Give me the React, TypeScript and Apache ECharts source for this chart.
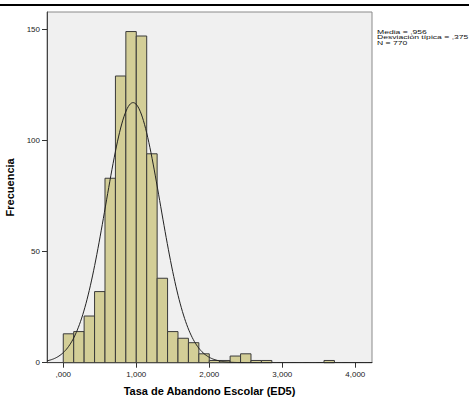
import React, { useEffect, useRef } from "react";
import * as echarts from "echarts";

// Histogram data (bins of width 1/7 starting at 0)
const BIN_START = 0;
const BIN_WIDTH = 1 / 7;
const counts: number[] = [
  13, 14, 21, 32, 83, 129, 149, 147, 94, 38, 14, 11, 9, 4,
  1, 1, 3, 4, 1, 1, 0, 0, 0, 0, 0, 1,
];

// Summary statistics shown in the legend
const MEAN = 0.956;
const SD = 0.375;
const N = 770;
const statLines: string[] = ["Media = ,956", "Desviación típica = ,375", "N = 770"];

const xTicks: number[] = [0, 1, 2, 3, 4];
const yTicks: number[] = [0, 50, 100, 150];

const X_MIN = -0.223;
const X_MAX = 4.229;
const Y_MAX = 157.8;

const FONT = "'Liberation Sans', Arial, Helvetica, sans-serif";

function fmtEs(v: number): string {
  const s = v.toFixed(3).replace(".", ",");
  return s.startsWith("0,") ? s.slice(1) : s;
}

export default function App() {
  const ref = useRef<HTMLDivElement>(null);

  useEffect(() => {
    if (!ref.current) return;
    const chart = echarts.init(ref.current, null, { renderer: "svg" });

    const barData = counts.map((c, i) => [
      BIN_START + i * BIN_WIDTH,
      BIN_START + (i + 1) * BIN_WIDTH,
      c,
    ]);

    // Fitted normal curve (SPSS overlay) from the displayed statistics
    const curve: number[][] = [];
    const steps = 300;
    for (let k = 0; k <= steps; k++) {
      const x = X_MIN + ((X_MAX - X_MIN) * k) / steps;
      const z = (x - MEAN) / SD;
      const y = (N * BIN_WIDTH * Math.exp(-0.5 * z * z)) / (SD * Math.sqrt(2 * Math.PI));
      curve.push([x, y]);
    }

    chart.setOption({
      animation: false,
      backgroundColor: "#ffffff",
      grid: {
        left: 47,
        top: 12,
        width: 325,
        height: 350.7,
        containLabel: false,
        outerBoundsMode: "none",
        show: true,
        backgroundColor: "#f0f0f0",
        borderColor: "#8a8a8a",
        borderWidth: 1,
      },
      xAxis: {
        type: "value",
        min: X_MIN,
        max: X_MAX,
        name: "Tasa de Abandono Escolar (ED5)",
        nameLocation: "middle",
        nameGap: 23,
        nameTextStyle: { fontFamily: FONT, fontWeight: "bold", fontSize: 11, color: "#000" },
        axisLine: { show: true, onZero: false, lineStyle: { color: "#444", width: 1 } },
        axisTick: { show: true, length: 5, customValues: xTicks, lineStyle: { color: "#333" } },
        axisLabel: {
          customValues: xTicks,
          formatter: (v: number) => fmtEs(v),
          fontFamily: FONT,
          fontSize: 8,
          color: "#222",
          margin: 8,
        },
        splitLine: { show: false },
      },
      yAxis: {
        type: "value",
        min: 0,
        max: Y_MAX,
        name: "Frecuencia",
        nameLocation: "middle",
        nameGap: 27,
        nameTextStyle: { fontFamily: FONT, fontWeight: "bold", fontSize: 11, color: "#000" },
        axisLine: { show: true, onZero: false, lineStyle: { color: "#444", width: 1 } },
        axisTick: { show: true, length: 5, customValues: yTicks, lineStyle: { color: "#333" } },
        axisLabel: {
          customValues: yTicks,
          fontFamily: FONT,
          fontSize: 8,
          color: "#222",
          margin: 7,
        },
        splitLine: { show: false },
      },
      series: [
        {
          type: "custom",
          data: barData,
          encode: { x: [0, 1], y: 2 },
          renderItem: (_params: any, api: any) => {
            const c = api.value(2);
            if (!c) return null;
            const p0 = api.coord([api.value(0), c]);
            const p1 = api.coord([api.value(1), 0]);
            return {
              type: "rect",
              shape: { x: p0[0], y: p0[1], width: p1[0] - p0[0], height: p1[1] - p0[1] },
              style: { fill: "#d3ce97", stroke: "#3a3a3a", lineWidth: 1 },
            };
          },
          z: 2,
        },
        {
          type: "line",
          data: curve,
          showSymbol: false,
          symbol: "none",
          lineStyle: { color: "#222", width: 1 },
          z: 3,
        },
      ],
      graphic: [
        { type: "rect", left: 0, top: 4, shape: { width: 469, height: 2 }, style: { fill: "#000" } },
        ...statLines.map((t, i) => ({
          type: "text",
          x: 377,
          y: 31.8 + i * 5.6,
          scaleX: 1,
          scaleY: 0.64,
          style: {
            text: t,
            fontFamily: FONT,
            fontSize: 8.6,
            fill: "#111",
            textVerticalAlign: "middle",
            verticalAlign: "middle",
          },
        })),
      ],
    });

    return () => chart.dispose();
  }, []);

  return (
    <div
      ref={ref}
      style={{ position: "fixed", left: 0, top: 0, width: 469, height: 398 }}
    />
  );
}
